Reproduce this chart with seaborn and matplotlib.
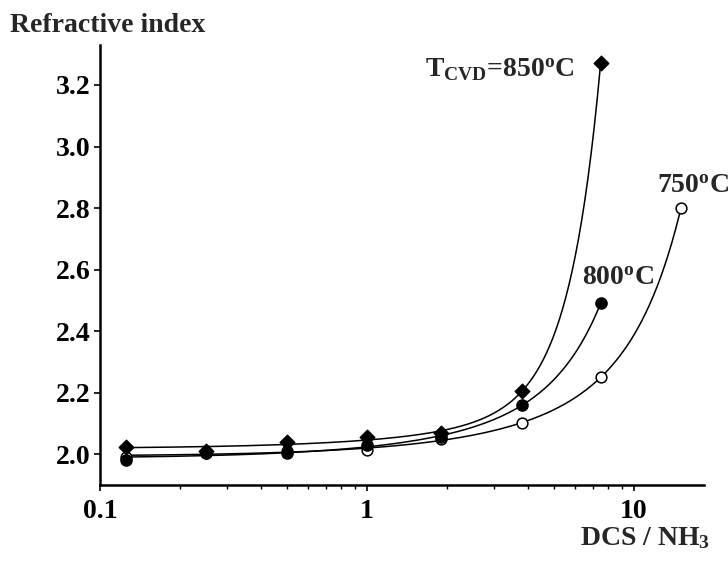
import numpy as np
import pandas as pd
import seaborn as sns
import matplotlib.pyplot as plt
from matplotlib.ticker import LogLocator, NullFormatter

# ratio DCS/NH3 and refractive index
ratio = [0.125, 0.25, 0.5, 1.0, 1.9, 3.8, 7.5]
ratio_750 = [0.125, 0.25, 0.5, 1.0, 1.9, 3.8, 7.5, 15.0]
n_850 = [2.025, 2.01, 2.04, 2.055, 2.07, 2.205, 3.27]
n_800 = [1.98, 2.005, 2.005, 2.03, 2.055, 2.16, 2.49]
n_750 = [1.99, 2.005, 2.01, 2.015, 2.05, 2.10, 2.25, 2.80]

sns.set_theme(style='ticks')
plt.rcParams['font.family'] = ['Liberation Serif', 'DejaVu Serif']
plt.rcParams['font.weight'] = 'bold'
plt.rcParams['mathtext.fontset'] = 'custom'
plt.rcParams['mathtext.rm'] = 'Liberation Serif:bold'
plt.rcParams['mathtext.it'] = 'Liberation Serif:bold'
plt.rcParams['mathtext.bf'] = 'Liberation Serif:bold'


def fit_curve(x, y):
    # smooth fit y = a + b*x + c*x**p, best p on a grid
    x = np.asarray(x)
    y = np.asarray(y)
    best = None
    for p in np.arange(1.5, 6.0, 0.05):
        A = np.column_stack([np.ones_like(x), x, x ** p])
        coef, res, _, _ = np.linalg.lstsq(A, y, rcond=None)
        err = np.sum((A @ coef - y) ** 2)
        if best is None or err < best[0]:
            best = (err, p, coef)
    _, p, coef = best
    xs = np.logspace(np.log10(x[0]), np.log10(x[-1]), 300)
    ys = coef[0] + coef[1] * xs + coef[2] * xs ** p
    return xs, ys


fig = plt.figure(figsize=(7.28, 5.65), dpi=100)
ax = fig.add_axes([0.1374, 0.1416, 0.8297, 0.7788])

for xv, yv in [(ratio, n_850), (ratio, n_800), (ratio_750, n_750)]:
    xs, ys = fit_curve(xv, yv)
    sns.lineplot(x=xs, y=ys, ax=ax, color='black', linewidth=1.1, sort=False)

# open circles first so the filled marks sit on top like in the original
sns.scatterplot(x=ratio_750, y=n_750, ax=ax, marker='o', s=60, facecolor='white',
                edgecolor='black', linewidth=1.1, zorder=3)
sns.scatterplot(x=ratio, y=n_800, ax=ax, marker='o', s=65, color='black',
                edgecolor='black', linewidth=1, zorder=4)
sns.scatterplot(x=ratio, y=n_850, ax=ax, marker='D', s=55, color='black',
                edgecolor='black', linewidth=1, zorder=5)

ax.set_xscale('log')
ax.set_xlim(0.1, 18.3)
ax.set_ylim(1.9, 3.33)
ax.set_xticks([0.1, 1, 10])
ax.set_xticklabels(['0.1', '1', '10'])
ax.xaxis.set_minor_locator(LogLocator(base=10, subs=np.arange(2, 10)))
ax.xaxis.set_minor_formatter(NullFormatter())
ax.set_yticks([2.0, 2.2, 2.4, 2.6, 2.8, 3.0, 3.2])
ax.set_yticklabels(['2.0', '2.2', '2.4', '2.6', '2.8', '3.0', '3.2'])
ax.yaxis.set_minor_locator(plt.NullLocator())

sns.despine(ax=ax)
for s in ['left', 'bottom']:
    ax.spines[s].set_linewidth(1.8)
    ax.spines[s].set_color('black')

ax.tick_params(axis='both', which='major', labelsize=20, width=1.2, length=4,
               color='black', labelcolor='black', pad=3)
ax.tick_params(axis='x', which='major', pad=6)
ax.tick_params(axis='x', which='minor', width=1.0, length=3, color='black')
ax.set_xlabel('')
ax.set_ylabel('')

ax.text(6.0, 3.227, r'T$_{\rm CVD}$=850$^{\rm o}$C', ha='right', va='baseline',
        fontsize=20, fontweight='bold')
ax.text(6.38, 2.549, r'800$^{\rm o}$C', ha='left', va='baseline',
        fontsize=20, fontweight='bold')
ax.text(12.2, 2.85, r'750$^{\rm o}$C', ha='left', va='baseline',
        fontsize=20, fontweight='bold')

fig.text(10 / 728, 1 - 32 / 565, 'Refractive index', ha='left', va='baseline',
         fontsize=20, fontweight='bold')
fig.text(710 / 728, 1 - 545 / 565, r'DCS / NH$_3$', ha='right', va='baseline',
         fontsize=20, fontweight='bold')

fig.savefig('out.png', dpi=100)
